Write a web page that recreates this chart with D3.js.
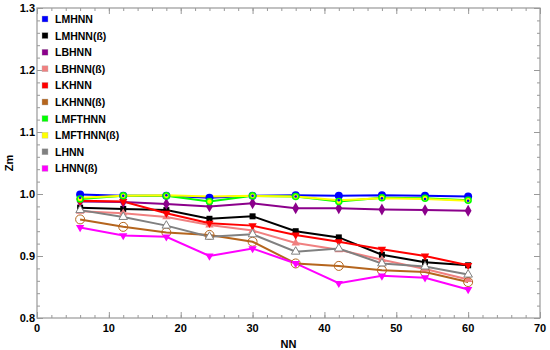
<!DOCTYPE html>
<html>
<head>
<meta charset="utf-8">
<script src="https://cdn.jsdelivr.net/npm/d3@7"></script>
<style>
body { margin: 0; background: #fff; }
text { font-family: "Liberation Sans", Arial, sans-serif; font-weight: bold; }
</style>
</head>
<body>
<div class="graph"></div>
<script>
// data
var nn = [6, 12, 18, 24, 30, 36, 42, 48, 54, 60]
var names = ['LMHNN', 'LMHNN(ß)', 'LBHNN', 'LBHNN(ß)', 'LKHNN', 'LKHNN(ß)', 'LMFTHNN', 'LMFTHNN(ß)', 'LHNN', 'LHNN(ß)']
var colors = ['#0000ff', '#000000', '#8b008b', '#f08080', '#ff0000', '#b5651d', '#00ff00', '#ffff00', '#808080', '#ff00ff']
var lmhnn     = [0.999, 0.997, 0.997, 0.994, 0.997, 0.998, 0.997, 0.998, 0.997, 0.996]
var lmhnnB    = [0.978, 0.976, 0.974, 0.960, 0.964, 0.940, 0.930, 0.902, 0.890, 0.885]
var lbhnn     = [0.988, 0.987, 0.984, 0.980, 0.985, 0.977, 0.977, 0.975, 0.974, 0.973]
var lbhnnB    = [0.972, 0.969, 0.963, 0.950, 0.941, 0.921, 0.910, 0.894, 0.879, 0.862]
var lkhnn     = [0.989, 0.988, 0.969, 0.953, 0.949, 0.934, 0.923, 0.911, 0.900, 0.885]
var lkhnnB    = [0.959, 0.947, 0.938, 0.934, 0.923, 0.888, 0.884, 0.877, 0.874, 0.858]
var lmfthnn   = [0.992, 0.997, 0.997, 0.988, 0.997, 0.996, 0.988, 0.994, 0.993, 0.990]
var lmfthnnB  = [0.994, 0.997, 0.998, 0.996, 0.997, 0.996, 0.990, 0.993, 0.992, 0.989]
var lhnn      = [0.974, 0.963, 0.949, 0.931, 0.935, 0.907, 0.912, 0.888, 0.883, 0.870]
var lhnnB     = [0.946, 0.933, 0.931, 0.900, 0.912, 0.888, 0.856, 0.868, 0.865, 0.846]
var seriesVals = [lmhnn, lmhnnB, lbhnn, lbhnnB, lkhnn, lkhnnB, lmfthnn, lmfthnnB, lhnn, lhnnB]
var markers = ['circle', 'square', 'diamond', 'triangle', 'triangleDown', 'openCircle', 'ring', 'dot', 'openTriangle', 'triangleDown']
var xTicks = [0, 10, 20, 30, 40, 50, 60, 70]
var yTicks = [0.8, 0.9, 1.0, 1.1, 1.2, 1.3]

var basewidth = 550, baseheight = 350
var margin = {top: 8, right: 10, bottom: 32, left: 37},
    width = basewidth - margin.left - margin.right,
    height = baseheight - margin.top - margin.bottom

var svg = d3.select('.graph')
    .append('svg')
    .attr('width', basewidth)
    .attr('height', baseheight)
var canvas = svg.append('g')
    .attr('transform', 'translate(' + margin.left + ',' + margin.top + ')')

var x = d3.scaleLinear().domain([0, 70]).range([0, width])
var y = d3.scaleLinear().domain([0.8, 1.3]).range([height, 0])

// frame ticks, inward, on all four sides
function tickAxis(axis, minor, tf) {
    var g = canvas.append('g').attr('transform', tf)
    g.call(axis)
    g.select('.domain').remove()
    g.selectAll('line').attr('stroke', '#999')
    g.selectAll('text').remove()
    return g
}
var xMinor = d3.range(0, 71, 2), yMinor = d3.range(0.8, 1.301, 0.02)
tickAxis(d3.axisBottom(x).tickValues(xMinor).tickSizeInner(-3).tickFormat(''), true, 'translate(0,' + height + ')')
tickAxis(d3.axisBottom(x).tickValues(xTicks).tickSizeInner(-6).tickFormat(''), false, 'translate(0,' + height + ')')
tickAxis(d3.axisTop(x).tickValues(xMinor).tickSizeInner(-3).tickFormat(''), true, 'translate(0,0)')
tickAxis(d3.axisTop(x).tickValues(xTicks).tickSizeInner(-6).tickFormat(''), false, 'translate(0,0)')
tickAxis(d3.axisLeft(y).tickValues(yMinor).tickSizeInner(-3).tickFormat(''), true, 'translate(0,0)')
tickAxis(d3.axisLeft(y).tickValues(yTicks).tickSizeInner(-6).tickFormat(''), false, 'translate(0,0)')
tickAxis(d3.axisRight(y).tickValues(yMinor).tickSizeInner(-3).tickFormat(''), true, 'translate(' + width + ',0)')
tickAxis(d3.axisRight(y).tickValues(yTicks).tickSizeInner(-6).tickFormat(''), false, 'translate(' + width + ',0)')

canvas.append('rect')
    .attr('width', width).attr('height', height)
    .style('fill', 'none').style('stroke', '#999').style('stroke-width', 1.2)

// tick labels
canvas.selectAll('.xlab').data(xTicks).enter().append('text')
    .attr('x', d => x(d)).attr('y', height + 14)
    .attr('text-anchor', 'middle').style('font-size', '11px')
    .text(d => d)
canvas.selectAll('.ylab').data(yTicks).enter().append('text')
    .attr('x', -2).attr('y', d => y(d) + 4)
    .attr('text-anchor', 'end').style('font-size', '11px')
    .text(d => d3.format('.1f')(d))

canvas.append('text')
    .attr('x', width / 2).attr('y', height + 30)
    .attr('text-anchor', 'middle').style('font-size', '11px')
    .text('NN')
svg.append('text')
    .attr('transform', 'translate(13,' + 163 + ') rotate(-90)')
    .attr('text-anchor', 'middle').style('font-size', '11px')
    .text('Zm')

// lines
var line = d3.line().x((d, i) => x(nn[i])).y(d => y(d))
seriesVals.forEach(function(vals, k) {
    canvas.append('path')
        .attr('d', line(vals))
        .style('fill', 'none')
        .style('stroke', colors[k])
        .style('stroke-width', 2)
})

// markers
function drawMarker(g, type, color, px, py) {
    if (type == 'circle') {
        g.append('circle').attr('cx', px).attr('cy', py).attr('r', 4).style('fill', color)
    } else if (type == 'square') {
        g.append('rect').attr('x', px - 3).attr('y', py - 3).attr('width', 6).attr('height', 6).style('fill', color)
    } else if (type == 'diamond') {
        g.append('path').attr('d', d3.symbol(d3.symbolDiamond, 40)()).attr('transform', 'translate(' + px + ',' + py + ')').style('fill', color)
    } else if (type == 'triangle') {
        g.append('path').attr('d', d3.symbol(d3.symbolTriangle, 30)()).attr('transform', 'translate(' + px + ',' + py + ')').style('fill', color)
    } else if (type == 'triangleDown') {
        g.append('path').attr('d', d3.symbol(d3.symbolTriangle, 30)()).attr('transform', 'translate(' + px + ',' + py + ') rotate(180)').style('fill', color)
    } else if (type == 'openCircle') {
        g.append('circle').attr('cx', px).attr('cy', py).attr('r', 4.5).style('fill', 'none').style('stroke', color).style('stroke-width', 1)
    } else if (type == 'ring') {
        g.append('circle').attr('cx', px).attr('cy', py).attr('r', 3).style('fill', '#ffff00').style('stroke', color).style('stroke-width', 1.5)
    } else if (type == 'dot') {
        g.append('circle').attr('cx', px).attr('cy', py).attr('r', 1.3).style('fill', '#0000ff')
    } else if (type == 'openTriangle') {
        g.append('path').attr('d', d3.symbol(d3.symbolTriangle, 32)()).attr('transform', 'translate(' + px + ',' + py + ')').style('fill', '#fff').style('stroke', color).style('stroke-width', 1)
    }
}
seriesVals.forEach(function(vals, k) {
    var g = canvas.append('g')
    vals.forEach(function(v, i) { drawMarker(g, markers[k], colors[k], x(nn[i]), y(v)) })
})

// legend
var legend = svg.append('g').attr('transform', 'translate(42,19)')
names.forEach(function(n, k) {
    var row = legend.append('g').attr('transform', 'translate(0,' + (k * 16.6) + ')')
    row.append('rect').attr('x', 0).attr('y', -3).attr('width', 6).attr('height', 6)
        .style('fill', colors[k]).style('stroke', '#bbb').style('stroke-width', 0.4)
    row.append('text').attr('x', 13).attr('y', 4).style('font-size', '10.5px').text(n)
})
</script>
</body>
</html>
